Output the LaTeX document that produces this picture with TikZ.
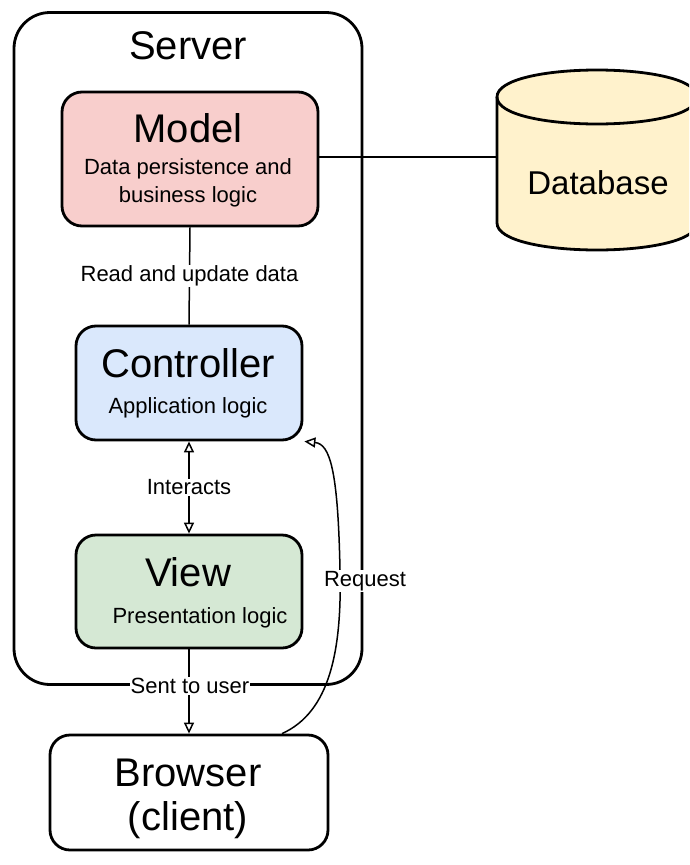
\documentclass[tikz,border=0pt]{standalone}
\usepackage{fontspec}
\setmainfont{Liberation Sans}
\usetikzlibrary{arrows.meta,calc}
\definecolor{modelfill}{HTML}{F8CECC}
\definecolor{ctrlfill}{HTML}{DAE8FC}
\definecolor{viewfill}{HTML}{D5E8D4}
\definecolor{dbfill}{HTML}{FFF2CC}
\begin{document}
\begin{tikzpicture}[x=1pt,y=-1pt,
  box/.style={draw=black, line width=2.8pt, rounded corners=20pt, inner sep=0pt},
  big/.style={font=\fontsize{40}{44}\selectfont},
  small/.style={font=\fontsize{22}{26}\selectfont},
  conn/.style={draw=black, line width=1.5pt},
  lbl/.style={fill=white, inner sep=1pt, small},
  tip/.style={-{Triangle[open,length=11pt,width=10pt]}}
]
\useasboundingbox (0,0) rectangle (689,865);
\clip (0,0) rectangle (689,865);

% server container
\node[box, rounded corners=36pt, minimum width=348pt, minimum height=672pt] (server) at (188,348.5) {};
\node[big] (servertitle) at (188,46) {Server};

% model / controller / view
\node[box, fill=modelfill, minimum width=256pt, minimum height=134pt] (model) at (190,159) {};
\node[big] (modeltitle) at (188,128) {Model};
\node[small, align=center] (modeltext) at (188,183) {Data persistence and\\[2pt]business logic};

\node[box, fill=ctrlfill, minimum width=226pt, minimum height=114pt] (controller) at (189,383) {};
\node[big] (ctrltitle) at (188,363) {Controller};
\node[small] (ctrltext) at (188,408) {Application logic};

\node[box, fill=viewfill, minimum width=226pt, minimum height=113pt] (view) at (189,591.5) {};
\node[big] (viewtitle) at (188,572) {View};
\node[small] (viewtext) at (200,618) {Presentation logic};

% browser
\node[box, fill=white, minimum width=278pt, minimum height=115pt] (browser) at (189,792.5) {};
\node[big, align=center] (browsertext) at (188,799) {Browser\\[0pt](client)};

% database cylinder
\coordinate (dbleft) at (497,157);
\path[fill=dbfill, draw=black, line width=2.8pt]
  (497,97) -- (497,223) .. controls (497,259) and (697,259) .. (697,223)
  -- (697,97) .. controls (697,61) and (497,61) .. (497,97) -- cycle;
\draw[line width=2.8pt] (497,97) .. controls (497,133) and (697,133) .. (697,97);
\node[font=\fontsize{33}{36}\selectfont] (dbtext) at (598,183) {Database};

% connectors
\draw[conn] (model.east |- dbleft) -- (dbleft);
\draw[conn] (model.south) -- (controller.north)
  node[lbl, midway] (readlbl) {Read and update data};
\draw[conn, {Triangle[open,length=11pt,width=10pt]}-{Triangle[open,length=11pt,width=10pt]}]
  (controller.south) -- (view.north) node[lbl, midway] (interlbl) {Interacts};
\draw[conn, tip] (view.south) -- (browser.north);
\node[lbl] (sentlbl) at (190,686) {Sent to user};
\draw[conn, tip] ($(browser.north)+(93,0)$)
  .. controls (330,712) and (342,650) .. (340,570)
  .. controls (338,470) and (330,444) .. ([xshift=1pt]controller.south east);
\node[lbl] (reqlbl) at (365,581) {Request};
\end{tikzpicture}
\end{document}
